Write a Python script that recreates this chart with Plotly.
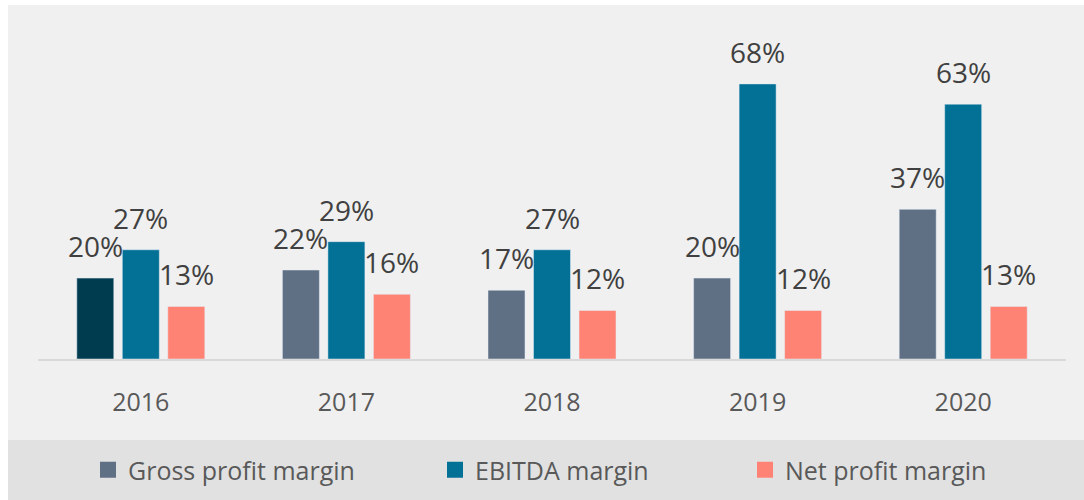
import plotly.graph_objects as go

years = ["2016", "2017", "2018", "2019", "2020"]
gross_margin = [20, 22, 17, 20, 37]
ebitda_margin = [27, 29, 27, 68, 63]
net_margin = [13, 16, 12, 12, 13]

series_names = ["Gross profit margin", "EBITDA margin", "Net profit margin"]
series_colors = ["#5f6f84", "#037096", "#ff8374"]
highlight_color = "#003c50"  # first gross bar is drawn darker

FONT = "Segoe UI, Open Sans, sans-serif"
W, H = 1084, 500
L, R, T, B = 38, 18, 20, 141
BARGAP = 0.336

gross_colors = [highlight_color] + [series_colors[0]] * (len(years) - 1)
all_values = [gross_margin, ebitda_margin, net_margin]
bar_colors = [gross_colors, series_colors[1], series_colors[2]]


def px_x(p):
    return (p - L) / (W - L - R)


def px_y(p):
    return (H - B - p) / (H - T - B)


fig = go.Figure()
for name, vals, col in zip(series_names, all_values, bar_colors):
    fig.add_trace(go.Bar(x=years, y=vals, name=name, marker=dict(color=col),
                         showlegend=False))

# one small legend per series so each entry can sit where the reference has it
legend_ids = ["legend", "legend2", "legend3"]
swatch_px = [100, 447, 757]
for name, col, lid in zip(series_names, series_colors, legend_ids):
    fig.add_trace(go.Scatter(x=[None], y=[None], mode="markers", name=name, legend=lid,
                             marker=dict(symbol="square", size=16, color=col)))

legend_style = dict(orientation="h", xanchor="left", yanchor="bottom", y=px_y(493),
                    font=dict(family=FONT, size=25, color="#595959"),
                    bgcolor="rgba(0,0,0,0)", itemsizing="trace")
for lid, sx in zip(legend_ids, swatch_px):
    fig.update_layout({lid: dict(legend_style, x=px_x(sx - 12))})

# data labels above each bar (slot offset in px); x by category index so
# "2016" is not read as a numeric position
slot = (1 - BARGAP) * (W - L - R) / len(years) / 3
for k, vals in enumerate(all_values):
    for i, v in enumerate(vals):
        fig.add_annotation(x=i, y=v, text=f"{v}%", showarrow=False,
                           xshift=(k - 1) * slot, yanchor="bottom", yshift=11,
                           font=dict(family=FONT, size=28, color="#404040"))

# background panels: white frame, light gray plot panel, darker legend band
fig.add_shape(type="rect", xref="paper", yref="paper", layer="below",
              x0=px_x(8), x1=px_x(W), y0=px_y(440), y1=px_y(5),
              fillcolor="#f0f0f0", line_width=0)
fig.add_shape(type="rect", xref="paper", yref="paper", layer="below",
              x0=px_x(8), x1=px_x(W), y0=px_y(H), y1=px_y(440),
              fillcolor="#e1e1e1", line_width=0)

fig.update_layout(
    width=W, height=H,
    margin=dict(l=L, r=R, t=T, b=B, autoexpand=False),
    paper_bgcolor="white", plot_bgcolor="rgba(0,0,0,0)",
    barmode="group", bargap=BARGAP, bargroupgap=0.187,
    font=dict(family=FONT, color="#595959"),
    showlegend=True,
    xaxis=dict(type="category", categoryorder="array", categoryarray=years,
               range=[-0.5, len(years) - 0.5], autorange=False, automargin=False,
               showline=True, linecolor="#d9d9d9", linewidth=2,
               ticks="", tickfont=dict(size=25, color="#595959"), ticklabelstandoff=20,
               showgrid=False, fixedrange=True),
    yaxis=dict(visible=False, range=[0, 83.8], autorange=False, automargin=False,
               showgrid=False, zeroline=False),
)

page_css = ("document.documentElement.style.margin='0';"
            "document.documentElement.style.overflow='hidden';"
            "document.body.style.margin='0';"
            "document.body.style.overflow='hidden';")
fig.write_html("out.html", config={"displayModeBar": False}, post_script=page_css)
